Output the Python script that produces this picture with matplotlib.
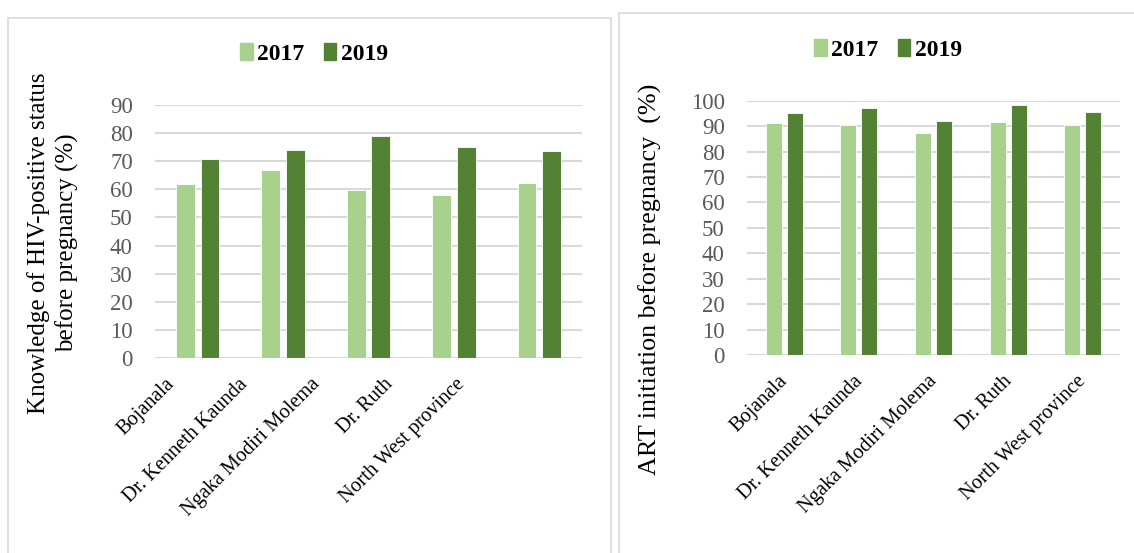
import matplotlib
matplotlib.use("Agg")
import matplotlib.pyplot as plt
from matplotlib.patches import Rectangle, Patch

categories = ["Bojanala", "Dr. Kenneth Kaunda", "Ngaka Modiri Molema", "Dr. Ruth", "North West province"]
years = ["2017", "2019"]
knowledge_2017 = [61.8, 66.8, 59.7, 57.9, 62.1]
knowledge_2019 = [70.7, 73.9, 78.9, 75.1, 73.7]
art_2017 = [91.4, 90.3, 87.4, 91.5, 90.6]
art_2019 = [95.0, 97.0, 92.1, 98.3, 95.4]

c17 = "#a9d18e"
c19 = "#548235"
W, H = 1134, 553
fig = plt.figure(figsize=(W / 100, H / 100), dpi=100)
serif = "Liberation Serif"

# panel borders
fig.patches.append(Rectangle((8 / W, -0.01), (611 - 8) / W, 1 - 18 / H + 0.01, transform=fig.transFigure,
                             fill=False, edgecolor="#d9d9d9", lw=1.2))
fig.patches.append(Rectangle((619 / W, -0.01), (1140 - 619) / W, 1 - 13 / H + 0.01, transform=fig.transFigure,
                             fill=False, edgecolor="#d9d9d9", lw=1.2))

def panel(rect, v17, v19, ymax, bw, off, label_start, label_step, legend_xy):
    x0, y0, x1, y1 = rect
    ax = fig.add_axes([x0 / W, 1 - y1 / H, (x1 - x0) / W, (y1 - y0) / H])
    x = list(range(len(categories)))
    ax.bar([i - off for i in x], v17, width=bw, color=c17, edgecolor="white", linewidth=0.6, zorder=3)
    ax.bar([i + off for i in x], v19, width=bw, color=c19, edgecolor="white", linewidth=0.6, zorder=3)
    ax.set_xlim(-0.5, len(categories) - 0.5)
    ax.set_ylim(0, ymax)
    ax.set_yticks(range(0, ymax + 1, 10))
    ax.grid(axis="y", color="#d9d9d9", lw=1.5, zorder=0)
    ax.set_axisbelow(True)
    for s in ax.spines.values():
        s.set_visible(False)
    ax.tick_params(axis="y", length=0, labelsize=16.5, labelcolor="#595959", pad=16)
    ax.tick_params(axis="x", length=0, labelsize=14.6, labelcolor="black", pad=12)
    ax.set_xticks([label_start + label_step * i for i in x])
    ax.set_xticklabels(categories, rotation=45, ha="right", rotation_mode="anchor", fontfamily=serif)
    for t in ax.get_yticklabels():
        t.set_fontfamily(serif)
    handles = [Patch(color=c17), Patch(color=c19)]
    fig.legend(handles, years, loc="center", bbox_to_anchor=(legend_xy[0] / W, 1 - legend_xy[1] / H),
               ncol=2, frameon=False, prop={"family": serif, "weight": "bold", "size": 17},
               handlelength=0.55, handleheight=0.75, handletextpad=0.2, columnspacing=0.8)
    return ax

panel((155, 105, 582, 358), knowledge_2017, knowledge_2019, 90, 0.22, 0.145, -0.38, 0.85, (314, 54))
panel((747, 100.7, 1120, 355), art_2017, art_2019, 100, 0.215, 0.14, -0.08, 1.0, (888, 50))

fig.text(53 / W, 1 - 243 / H, "Knowledge of HIV-positive status\nbefore pregnancy (%)", rotation=90,
         ha="center", va="center", multialignment="center", fontfamily=serif, fontsize=18, linespacing=1.3)
fig.text(650 / W, 1 - 279 / H, "ART initiation before pregnancy  (%)", rotation=90,
         ha="center", va="center", fontfamily=serif, fontsize=18.8)

fig.savefig("out.png", dpi=100)
